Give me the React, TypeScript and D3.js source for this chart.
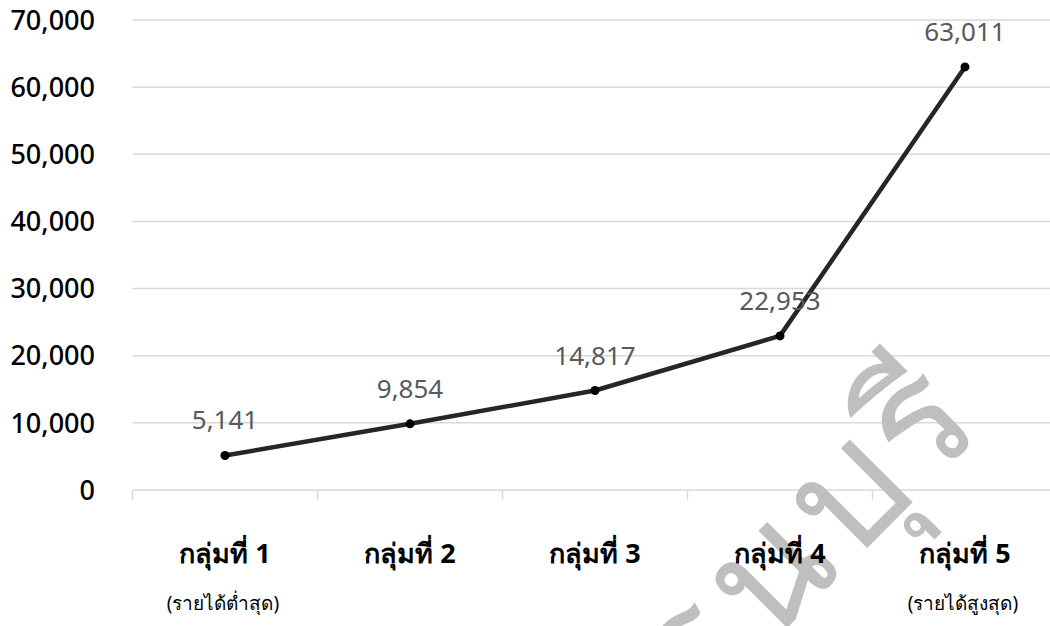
import * as d3 from "d3";

// chart data
const groups = ["กลุ่มที่ 1", "กลุ่มที่ 2", "กลุ่มที่ 3", "กลุ่มที่ 4", "กลุ่มที่ 5"];
const subLabels = ["(รายได้ต่ำสุด)", "", "", "", "(รายได้สูงสุด)"];
const income = [5141, 9854, 14817, 22953, 63011];
const yTicks = [0, 10000, 20000, 30000, 40000, 50000, 60000, 70000];
const watermark = "ราชภัฏธนบุรี";

export default function App() {
  const width = 1050;
  const height = 626;
  const margin = { top: 20, right: -7.5, bottom: 136, left: 132.5 };

  const x = d3
    .scaleBand()
    .domain(groups)
    .range([margin.left, width - margin.right])
    .padding(0);

  const y = d3
    .scaleLinear()
    .domain([0, 70000])
    .range([height - margin.bottom, margin.top]);

  const fmt = d3.format(",");
  const cx = (g: string) => (x(g) ?? 0) + x.bandwidth() / 2;

  const line = d3
    .line<number>()
    .x((_, i) => cx(groups[i]))
    .y((d) => y(d));

  const sans = "'Noto Sans', 'DejaVu Sans', sans-serif";
  const boundaries = groups.map((g) => x(g) ?? 0);

  return (
    <svg
      width={width}
      height={height}
      style={{ position: "absolute", left: 0, top: 0, background: "#fff" }}
    >
      {/* grid */}
      {yTicks.map((t) => (
        <line
          key={t}
          x1={margin.left}
          x2={width}
          y1={y(t)}
          y2={y(t)}
          stroke="#d9d9d9"
          strokeWidth={1.5}
        />
      ))}
      {boundaries.map((b, i) => (
        <line
          key={i}
          x1={b}
          x2={b}
          y1={y(0)}
          y2={y(0) + 10}
          stroke="#d9d9d9"
          strokeWidth={1.5}
        />
      ))}

      {/* y axis labels */}
      {yTicks.map((t) => (
        <text
          key={t}
          x={95}
          y={y(t)}
          dy="0.36em"
          textAnchor="end"
          fontFamily={sans}
          fontSize={27}
          fontWeight={500}
          fill="#000"
        >
          {fmt(t)}
        </text>
      ))}

      {/* watermark, runs off the bottom edge as in the original */}
      <g clipPath="url(#clip)">
        <clipPath id="clip">
          <rect x={0} y={0} width={width} height={height} />
        </clipPath>
        <text
          transform="translate(990,425) rotate(-45)"
          textAnchor="end"
          fontFamily={sans}
          fontSize={160}
          letterSpacing={6}
          fill="#bfbfbf"
        >
          {watermark}
        </text>
      </g>

      {/* line */}
      <path
        d={line(income) ?? ""}
        fill="none"
        stroke="#262626"
        strokeWidth={4.5}
        strokeLinejoin="round"
      />
      {income.map((v, i) => (
        <circle key={i} cx={cx(groups[i])} cy={y(v)} r={4.5} fill="#000" />
      ))}

      {/* data labels */}
      {income.map((v, i) => (
        <text
          key={i}
          x={cx(groups[i])}
          y={y(v) - 26}
          textAnchor="middle"
          fontFamily={sans}
          fontSize={26}
          fill="#595959"
        >
          {fmt(v)}
        </text>
      ))}

      {/* category labels */}
      {groups.map((g) => (
        <text
          key={g}
          x={cx(g)}
          y={563}
          textAnchor="middle"
          fontFamily={sans}
          fontSize={27}
          fontWeight="bold"
          fill="#000"
        >
          {g}
        </text>
      ))}
      {subLabels.map((s, i) =>
        s ? (
          <text
            key={i}
            x={cx(groups[i]) - 2}
            y={610}
            textAnchor="middle"
            fontFamily={sans}
            fontSize={19}
            fill="#000"
          >
            {s}
          </text>
        ) : null,
      )}
    </svg>
  );
}
